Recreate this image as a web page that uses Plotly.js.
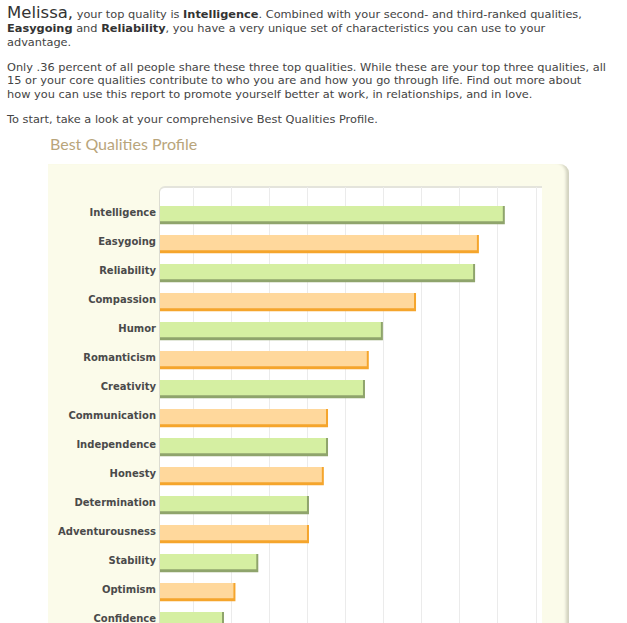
<!DOCTYPE html>
<html>
<head>
<meta charset="utf-8">
<script src="https://cdn.plot.ly/plotly-3.0.1.min.js"></script>
<style>
  html, body { margin:0; padding:0; width:627px; height:623px; overflow:hidden; background:#fff; }
  #intro { position:absolute; left:7px; top:6px; width:620px; white-space:nowrap; font-family:"DejaVu Sans","Liberation Sans",sans-serif; font-size:11.35px; line-height:13.8px; color:#444; }
  #intro p { margin:0 0 11.2px 0; }
  #intro .name { font-size:16.5px; color:#333; }
  #intro b { color:#333; }
  #title { position:absolute; left:50px; top:134px; font-family:Lato, "Open Sans", sans-serif; font-size:16px; color:#b9a57b; }
  #panel { position:absolute; left:48px; top:164px; width:521px; height:600px; background:#fbfbea; border-top-right-radius:9px;
           box-shadow: inset -5px 0 3px -2px #d2d2c0; }
  #inner { position:absolute; left:159px; top:186px; width:382px; height:600px; background:#fff; border-top:2px solid #e4e4dc; border-left:1px solid #dcdcd2; border-top-left-radius:6px; }
  #chart { position:absolute; left:0; top:0; width:627px; height:700px; }
</style>
</head>
<body>
<div id="intro">
  <p><span class="name">Melissa,</span> your top quality is <b>Intelligence</b>. Combined with your second- and third-ranked qualities,<br><b>Easygoing</b> and <b>Reliability</b>, you have a very unique set of characteristics you can use to your<br>advantage.</p>
  <p>Only .36 percent of all people share these three top qualities. While these are your top three qualities, all<br>15 or your core qualities contribute to who you are and how you go through life. Find out more about<br>how you can use this report to promote yourself better at work, in relationships, and in love.</p>
  <p>To start, take a look at your comprehensive Best Qualities Profile.</p>
</div>
<div id="title">Best Qualities Profile</div>
<div id="panel"></div>
<div id="inner"></div>
<div id="chart"></div>
<script>
var qualities = ["Intelligence","Easygoing","Reliability","Compassion","Humor","Romanticism","Creativity",
  "Communication","Independence","Honesty","Determination","Adventurousness","Stability","Optimism","Confidence"];
var scores = [90.5, 83.7, 82.7, 67.2, 58.5, 54.8, 53.8, 44.1, 44.1, 43.0, 39.1, 39.1, 25.8, 19.8, 16.8];

var fillColors = qualities.map(function(q, i){ return i % 2 === 0 ? "#d5efa2" : "#ffd89c"; });
var edgeColors = qualities.map(function(q, i){ return i % 2 === 0 ? "#8fa46c" : "#f5a52c"; });
var edgePx = 2, pxPerUnit = 381 / 100;
var lightScores = scores.map(function(v){ return v - edgePx / pxPerUnit; });

var traceEdge = {
  type: "bar", orientation: "h", y: qualities, x: scores,
  width: 0.63, offset: -0.21,
  marker: { color: edgeColors, line: { width: 0 } },
  hoverinfo: "skip", showlegend: false
};
var traceFill = {
  type: "bar", orientation: "h", y: qualities, x: lightScores,
  width: 0.53, offset: -0.21,
  marker: { color: fillColors, line: { width: 0 } },
  hovertemplate: "%{y}<extra></extra>", showlegend: false
};

var layout = {
  width: 627, height: 700,
  margin: { l: 160, r: 86, t: 187, b: 50 },
  paper_bgcolor: "rgba(0,0,0,0)", plot_bgcolor: "rgba(0,0,0,0)",
  barmode: "overlay",
  xaxis: { range: [0, 100], tick0: 8.7, dtick: 10, showgrid: true, gridcolor: "#ebebeb", gridwidth: 1,
           showticklabels: false, zeroline: false, showline: false, ticks: "", fixedrange: true },
  yaxis: { type: "category", range: [15.1, -0.862], showgrid: false, zeroline: false, showline: false,
           ticks: "", ticklabelstandoff: 3,
           tickfont: { family: "DejaVu Sans", size: 10, color: "#4a4a4a", weight: "bold" }, fixedrange: true },
  font: { family: "DejaVu Sans" }
};

Plotly.newPlot("chart", [traceEdge, traceFill], layout, { displayModeBar: false, staticPlot: true });
</script>
</body>
</html>
